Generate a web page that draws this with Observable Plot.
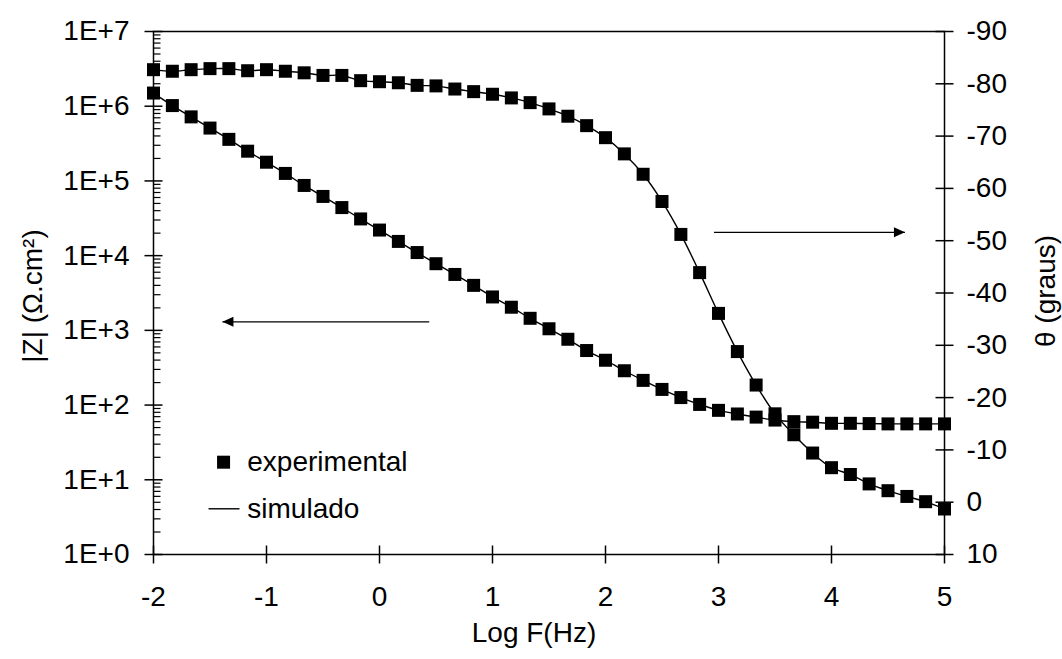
<!DOCTYPE html>
<html>
<head>
<meta charset="utf-8">
<script src="https://cdn.jsdelivr.net/npm/d3@7"></script>
<script src="https://cdn.jsdelivr.net/npm/@observablehq/plot@0.6"></script>
<style>
  html, body { margin: 0; padding: 0; background: #fff; }
</style>
</head>
<body>
<div id="chart"></div>
<script>
// ---- Data ----
const logF = [-2, -1.833, -1.667, -1.5, -1.333, -1.167, -1, -0.833, -0.667, -0.5, -0.333, -0.167,
  0, 0.167, 0.333, 0.5, 0.667, 0.833, 1, 1.167, 1.333, 1.5, 1.667, 1.833,
  2, 2.167, 2.333, 2.5, 2.667, 2.833, 3, 3.167, 3.333, 3.5, 3.667, 3.833,
  4, 4.167, 4.333, 4.5, 4.667, 4.833, 5];
const modZ = [1.5e6, 1.02e6, 7.2e5, 5.1e5, 3.6e5, 2.5e5, 1.78e5, 1.26e5, 8.7e4, 6.2e4, 4.4e4, 3.1e4,
  2.2e4, 1.55e4, 1.1e4, 7.8e3, 5.6e3, 4.0e3, 2.8e3, 2.04e3, 1.45e3, 1.05e3, 760, 537,
  398, 288, 214, 162, 126, 102, 85, 76, 69, 63, 60, 59,
  57, 57, 56.5, 56, 56, 56, 56];
const phase = [-82.7, -82.4, -82.7, -82.9, -82.9, -82.5, -82.7, -82.4, -82.1, -81.6, -81.6, -80.6,
  -80.4, -80.2, -79.7, -79.6, -79.0, -78.5, -78.0, -77.3, -76.4, -75.2, -73.8, -72.0,
  -69.7, -66.6, -62.7, -57.5, -51.2, -43.9, -36.1, -28.8, -22.4, -16.9, -12.9, -9.4,
  -6.6, -5.3, -3.5, -2.2, -1.1, -0.1, 1.3];

const zTicks = [1, 10, 100, 1e3, 1e4, 1e5, 1e6, 1e7];
const phaseTicks = [-90, -80, -70, -60, -50, -40, -30, -20, -10, 0, 10];
const xTicks = [-2, -1, 0, 1, 2, 3, 4, 5];
const minorMultipliers = [2, 3, 4, 5, 6, 7, 8, 9];

const xTitle = "Log F(Hz)";
const yLeftTitle = "|Z| (Ω.cm²)";
const yRightTitle = "θ (graus)";
const legendLabels = ["experimental", "simulado"];

// annotation anchors in data units
const legendMarker = {x: -1.38, z: 17.2};
const legendTextX = -1.17;
const legendLine = {x1: -1.513, x2: -1.239, z: 4.09};
const arrowLeft = {x1: 0.44, x2: -1.39, z: 1300};
const arrowRight = {x1: 2.96, x2: 4.65, p: -51.6};

// ---- mapping of the right (phase) axis onto the left log scale ----
const toZ = p => Math.pow(10, 0.07 * (10 - p));

const data = logF.map((f, i) => ({f, z: modZ[i], p: phase[i]}));
const minorTicks = zTicks.slice(0, -1).flatMap(d => minorMultipliers.map(m => d * m));

// custom symbols
const hTick = (a, b) => ({draw(c) { c.moveTo(a, 0); c.lineTo(b, 0); }});
const vTick = (a, b) => ({draw(c) { c.moveTo(0, a); c.lineTo(0, b); }});
const square = {draw(c) { c.rect(-6.5, -6.5, 13, 13); }};
const headLeft = {draw(c) { c.moveTo(0, 0); c.lineTo(11, -5); c.lineTo(11, 5); c.closePath(); }};
const headRight = {draw(c) { c.moveTo(0, 0); c.lineTo(-11, -5); c.lineTo(-11, 5); c.closePath(); }};

const FS = 28;
const tickStyle = {stroke: "black", fill: "none", strokeWidth: 1.5};

const chart = Plot.plot({
  width: 1062,
  height: 659,
  marginLeft: 153,
  marginRight: 118,
  marginTop: 31,
  marginBottom: 105,
  style: {fontFamily: "'Liberation Sans', Arial, sans-serif", fontSize: FS + "px", color: "black", background: "white"},
  x: {domain: [-2, 5]},
  y: {type: "log", domain: [1, 1e7]},
  marks: [
    Plot.frame({stroke: "black", strokeWidth: 1.5}),
    // ticks
    Plot.dot(zTicks, {x: -2, y: d => d, symbol: hTick(-9, 9), ...tickStyle}),
    Plot.dot(minorTicks, {x: -2, y: d => d, symbol: hTick(0, 7), ...tickStyle, strokeWidth: 1.2}),
    Plot.dot(phaseTicks, {x: 5, y: d => toZ(d), symbol: hTick(-9, 9), ...tickStyle}),
    Plot.dot(xTicks, {x: d => d, y: 1, symbol: vTick(-9, 9), ...tickStyle}),
    // tick labels
    Plot.axisY({ticks: zTicks, tickSize: 0, tickPadding: 24, tickFormat: d => "1E+" + Math.round(Math.log10(d)), label: null, fontSize: FS}),
    Plot.text(phaseTicks, {x: 5, y: d => toZ(d), text: d => String(d), textAnchor: "start", dx: 22, fontSize: FS, fill: "black"}),
    Plot.axisX({ticks: xTicks, tickSize: 0, tickPadding: 32, tickFormat: d => String(d), label: null, fontSize: FS}),
    // axis titles
    Plot.text([xTitle], {text: d => d, frameAnchor: "bottom", textAnchor: "middle", dx: -15, dy: 87, fontSize: FS, fill: "black"}),
    Plot.text([yLeftTitle], {text: d => d, frameAnchor: "left", textAnchor: "middle", rotate: -90, dx: -120, dy: 3, fontSize: FS, fill: "black"}),
    Plot.text([yRightTitle], {text: d => d, frameAnchor: "right", textAnchor: "middle", rotate: -90, dx: 102, dy: -2, fontSize: FS, fill: "black"}),
    // simulated lines
    Plot.line(data, {x: "f", y: "z", stroke: "black", strokeWidth: 1.4, curve: "catmull-rom"}),
    Plot.line(data, {x: "f", y: d => toZ(d.p), stroke: "black", strokeWidth: 1.4, curve: "catmull-rom"}),
    // experimental points
    Plot.dot(data, {x: "f", y: "z", symbol: square, fill: "black", stroke: "none"}),
    Plot.dot(data, {x: "f", y: d => toZ(d.p), symbol: square, fill: "black", stroke: "none"}),
    // arrows
    Plot.link([arrowLeft], {x1: "x1", x2: "x2", y1: "z", y2: "z", stroke: "black", strokeWidth: 1.4}),
    Plot.dot([arrowLeft], {x: "x2", y: "z", symbol: headLeft, fill: "black", stroke: "none"}),
    Plot.link([arrowRight], {x1: "x1", x2: "x2", y1: d => toZ(d.p), y2: d => toZ(d.p), stroke: "black", strokeWidth: 1.4}),
    Plot.dot([arrowRight], {x: "x2", y: d => toZ(d.p), symbol: headRight, fill: "black", stroke: "none"}),
    // legend
    Plot.dot([legendMarker], {x: "x", y: "z", symbol: square, fill: "black", stroke: "none"}),
    Plot.text([legendLabels[0]], {text: d => d, x: legendTextX, y: legendMarker.z, textAnchor: "start", fontSize: FS, fill: "black"}),
    Plot.link([legendLine], {x1: "x1", x2: "x2", y1: "z", y2: "z", stroke: "black", strokeWidth: 1.4}),
    Plot.text([legendLabels[1]], {text: d => d, x: legendTextX, y: legendLine.z, textAnchor: "start", fontSize: FS, fill: "black"})
  ]
});
document.getElementById("chart").appendChild(chart);
</script>
</body>
</html>
